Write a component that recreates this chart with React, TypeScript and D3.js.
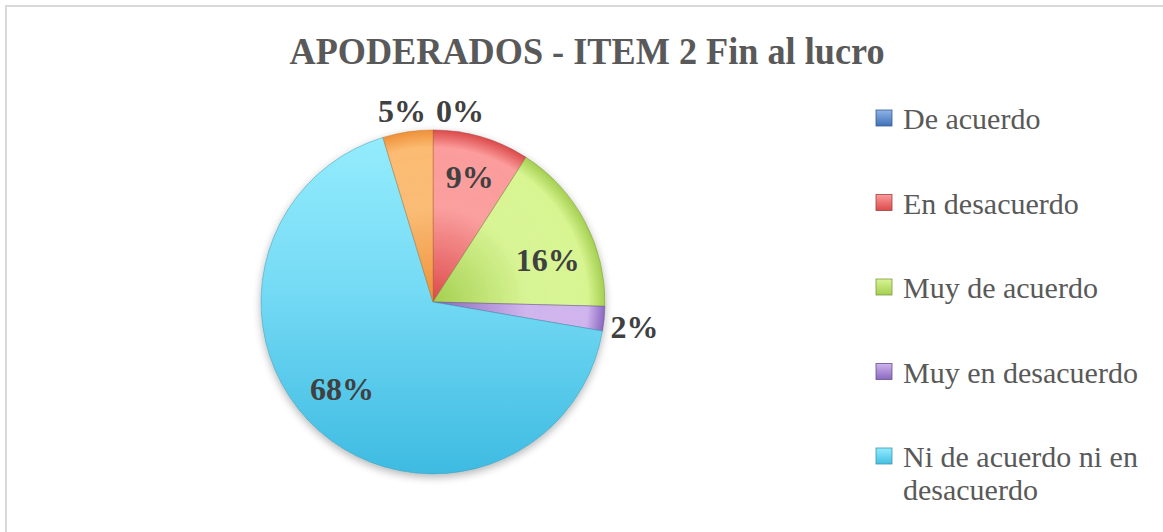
import React from "react";
import * as d3 from "d3";

const categories = [
  "De acuerdo",
  "En desacuerdo",
  "Muy de acuerdo",
  "Muy en desacuerdo",
  "Ni de acuerdo ni en desacuerdo",
  "Totalmente en desacuerdo",
];
const values = [0, 9.1, 16.3, 2.3, 67.6, 4.7];
const valueLabels = ["0%", "9%", "16%", "2%", "68%", "5%"];
const legendLines = [
  ["De acuerdo"],
  ["En desacuerdo"],
  ["Muy de acuerdo"],
  ["Muy en desacuerdo"],
  ["Ni de acuerdo ni en", "desacuerdo"],
];
const title = "APODERADOS - ITEM 2 Fin al lucro";

const lightColors = ["#8fb4e8", "#fc9c9c", "#d8f592", "#d0b4ee", "#92ecfd", "#fbbb72"];
const darkColors = ["#3f71b8", "#dc4a4a", "#a4cf50", "#8a68c0", "#45bfe4", "#ef9038"];
const edgeColors = ["#385d8a", "#a04040", "#7f9a48", "#65508a", "#3d98b0", "#c07830"];

const W = 1163;
const H = 532;
const cx = 433;
const cy = 302;
const R = 172;

export default function App() {
  const pie = d3.pie<number>().sort(null).value((d) => d).startAngle(0).endAngle(2 * Math.PI);
  const arcs = pie(values);
  const arc = d3.arc<d3.PieArcDatum<number>>().innerRadius(0).outerRadius(R);

  // label: radius factor and angular shift (degrees) relative to slice mid-angle
  const labelRadius = [1, 0.76, 0.71, 1.18, 0.73, 1];
  const labelShift = [0, 0, 8, 1.5, 5, 0];

  const labelPos = (a: d3.PieArcDatum<number>, i: number): [number, number] => {
    if (i === 0) return [cx + 27, cy - R - 8];
    if (i === 5) return [cx - 31, cy - R - 8];
    const m = (a.startAngle + a.endAngle) / 2 + (labelShift[i] * Math.PI) / 180;
    const r = R * labelRadius[i];
    return [cx + Math.sin(m) * r, cy - Math.cos(m) * r + 11];
  };

  const legendY0 = 110;
  const legendStep = 84.5;

  return (
    <div style={{ position: "fixed", left: 0, top: 0, width: W, height: H, overflow: "hidden", background: "#fff" }}>
      <svg width={W} height={H} style={{ display: "block" }}>
        <defs>
          {categories.map((_, i) => (
            <radialGradient key={"rg" + i} id={"rg" + i} gradientUnits="userSpaceOnUse" cx={0} cy={0} r={R}>
              <stop offset="0" stopColor={darkColors[i]} />
              <stop offset="0.55" stopColor={lightColors[i]} stopOpacity={0.95} />
              <stop offset="0.9" stopColor={lightColors[i]} />
              <stop offset="1" stopColor={darkColors[i]} />
            </radialGradient>
          ))}
          <linearGradient id="cyanGrad" gradientUnits="userSpaceOnUse" x1={0} y1={-R} x2={0} y2={R}>
            <stop offset="0" stopColor="#95edfd" />
            <stop offset="0.45" stopColor="#76dbf5" />
            <stop offset="1" stopColor="#3ebbe2" />
          </linearGradient>
          {categories.map((_, i) => (
            <linearGradient key={"lg" + i} id={"lg" + i} x1="0" y1="0" x2="0" y2="1">
              <stop offset="0" stopColor={lightColors[i]} />
              <stop offset="1" stopColor={darkColors[i]} />
            </linearGradient>
          ))}
          <filter id="shadow" x="-20%" y="-20%" width="140%" height="140%">
            <feGaussianBlur in="SourceAlpha" stdDeviation="4" />
            <feOffset dx="0" dy="3" result="b" />
            <feComponentTransfer>
              <feFuncA type="linear" slope="0.3" />
            </feComponentTransfer>
            <feMerge>
              <feMergeNode />
              <feMergeNode in="SourceGraphic" />
            </feMerge>
          </filter>
        </defs>

        <rect x={6} y={6} width={W + 10} height={H + 10} fill="#fff" stroke="#d9d9d9" strokeWidth={2} />

        <text
          x={587}
          y={64}
          textAnchor="middle"
          fontFamily="'Liberation Serif', 'DejaVu Serif', serif"
          fontWeight="bold"
          fontSize={37}
          fill="#595959"
          textLength={595}
          lengthAdjust="spacingAndGlyphs"
        >
          {title}
        </text>

        <g filter="url(#shadow)" transform={`translate(${cx},${cy})`}>
          {arcs.map((a, i) => {
            if (a.endAngle - a.startAngle <= 0) return null;
            return (
              <path
                key={i}
                d={arc(a) || ""}
                fill={i === 4 ? "url(#cyanGrad)" : `url(#rg${i})`}
                stroke={edgeColors[i]}
                strokeOpacity={0.5}
                strokeWidth={1}
              />
            );
          })}
        </g>

        {arcs.map((a, i) => {
          const [x, y] = labelPos(a, i);
          return (
            <text
              key={"l" + i}
              x={x}
              y={y}
              textAnchor="middle"
              fontFamily="'Liberation Serif', 'DejaVu Serif', serif"
              fontWeight="bold"
              fontSize={32}
              fill="#404040"
            >
              {valueLabels[i]}
            </text>
          );
        })}

        {legendLines.map((lines, i) => {
          const y = legendY0 + i * legendStep;
          return (
            <g key={"lgd" + i}>
              <rect x={876} y={y} width={16} height={16} fill={`url(#lg${i})`} stroke={edgeColors[i]} strokeWidth={0.8} />
              {lines.map((t, j) => (
                <text
                  key={j}
                  x={903}
                  y={y + 19 + j * 33}
                  fontFamily="'Liberation Serif', 'DejaVu Serif', serif"
                  fontSize={30}
                  fill="#595959"
                >
                  {t}
                </text>
              ))}
            </g>
          );
        })}
      </svg>
    </div>
  );
}
